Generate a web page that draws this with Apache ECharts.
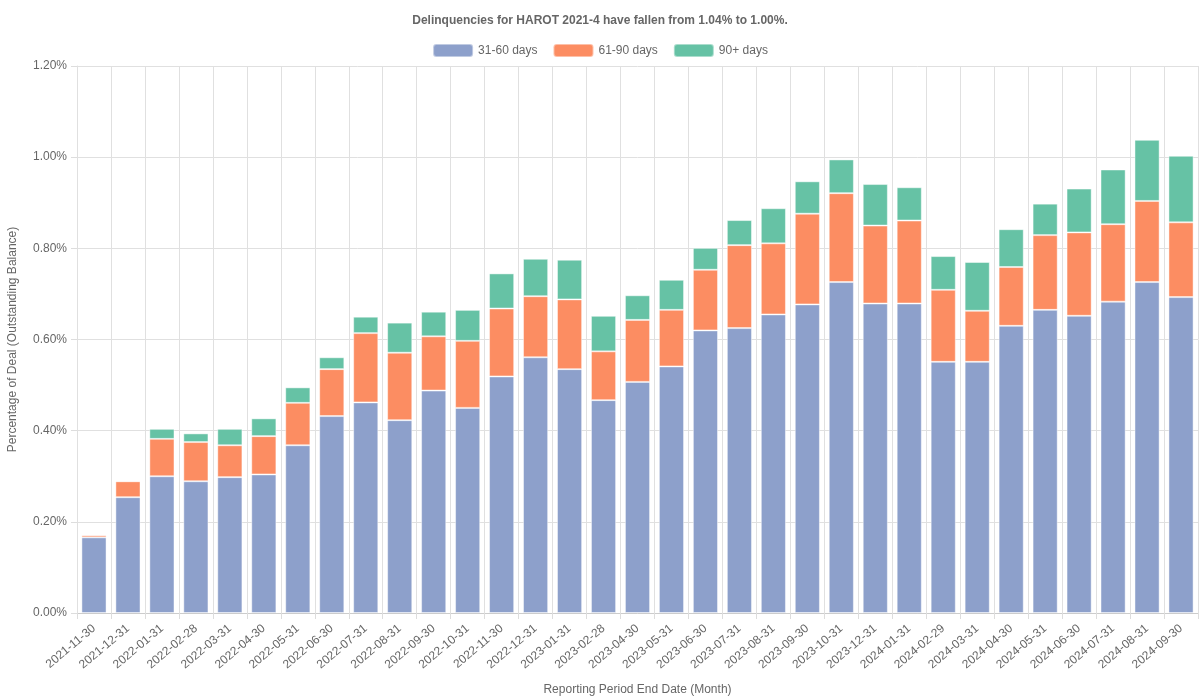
<!DOCTYPE html>
<html>
<head>
<meta charset="utf-8">
<script src="https://cdn.jsdelivr.net/npm/echarts@6/dist/echarts.min.js"></script>
<style>html,body{margin:0;padding:0;background:#fff}#c{width:1200px;height:700px}</style>
</head>
<body>
<div id="c"></div>
<script>
const categories = ["2021-11-30","2021-12-31","2022-01-31","2022-02-28","2022-03-31","2022-04-30","2022-05-31","2022-06-30","2022-07-31","2022-08-31","2022-09-30","2022-10-31","2022-11-30","2022-12-31","2023-01-31","2023-02-28","2023-04-30","2023-05-31","2023-06-30","2023-07-31","2023-08-31","2023-09-30","2023-10-31","2023-12-31","2024-01-31","2024-02-29","2024-03-31","2024-04-30","2024-05-31","2024-06-30","2024-07-31","2024-08-31","2024-09-30"];
const d31_60 = [0.166,0.254,0.300,0.289,0.298,0.304,0.368,0.432,0.462,0.423,0.488,0.450,0.519,0.561,0.535,0.467,0.507,0.541,0.620,0.625,0.655,0.677,0.726,0.679,0.679,0.551,0.551,0.630,0.665,0.652,0.683,0.726,0.693];
const d61_90 = [0.005,0.035,0.082,0.086,0.070,0.084,0.093,0.103,0.152,0.148,0.119,0.147,0.149,0.134,0.153,0.107,0.136,0.124,0.133,0.182,0.156,0.199,0.195,0.171,0.182,0.158,0.112,0.129,0.164,0.183,0.170,0.178,0.164];
const d90p = [0.000,0.001,0.022,0.019,0.036,0.039,0.034,0.026,0.036,0.066,0.054,0.068,0.077,0.082,0.087,0.078,0.054,0.066,0.048,0.055,0.077,0.071,0.074,0.091,0.073,0.074,0.107,0.083,0.069,0.096,0.120,0.134,0.146];
const seriesNames = ["31-60 days","61-90 days","90+ days"];
const colors = ["#8da0cb","#fc8d62","#66c2a5"];

const font = "'Liberation Sans', Arial, sans-serif";
const chart = echarts.init(document.getElementById('c'));
const mk = (name, data, color) => ({
  name, type: 'bar', stack: 'total', data,
  barCategoryGap: '26%',
  itemStyle: { color, borderColor: 'rgba(255,255,255,0.45)', borderWidth: 1 }
});
chart.setOption({
  animation: false,
  color: colors,
  textStyle: { fontFamily: font },
  title: {
    text: 'Delinquencies for HAROT 2021-4 have fallen from 1.04% to 1.00%.',
    left: 'center', top: 10,
    textStyle: { fontSize: 12, fontWeight: 'bold', color: '#666', fontFamily: font }
  },
  legend: {
    top: 38, left: 'center', itemWidth: 40, itemHeight: 13, itemGap: 15,
    textStyle: { fontSize: 12, color: '#666', fontFamily: font },
    data: seriesNames
  },
  grid: { left: 77, right: 2, top: 66, bottom: 87, containLabel: false, outerBoundsMode: 'none' },
  xAxis: {
    type: 'category', data: categories,
    name: 'Reporting Period End Date (Month)', nameLocation: 'middle', nameGap: 71,
    nameTextStyle: { fontSize: 12, color: '#666', fontFamily: font },
    axisLine: { lineStyle: { color: '#ccc' } },
    axisTick: { show: true, alignWithLabel: false, length: 6, lineStyle: { color: '#ddd' } },
    axisLabel: { rotate: 40, fontSize: 12, color: '#666', margin: 14, interval: 0, fontFamily: font },
    splitLine: { show: true, lineStyle: { color: '#e0e0e0' } }
  },
  yAxis: {
    type: 'value', min: 0, max: 1.2, interval: 0.2,
    name: 'Percentage of Deal (Outstanding Balance)', nameLocation: 'middle', nameGap: 58,
    nameTextStyle: { fontSize: 12, color: '#666', fontFamily: font },
    axisLine: { show: true, lineStyle: { color: '#e0e0e0' } },
    axisTick: { show: true, length: 6, lineStyle: { color: '#ddd' } },
    axisLabel: { formatter: v => v.toFixed(2) + '%', fontSize: 12, color: '#666', margin: 10, fontFamily: font },
    splitLine: { show: true, lineStyle: { color: '#e0e0e0' } }
  },
  series: [
    mk(seriesNames[0], d31_60, colors[0]),
    mk(seriesNames[1], d61_90, colors[1]),
    mk(seriesNames[2], d90p, colors[2])
  ]
});
</script>
</body>
</html>
